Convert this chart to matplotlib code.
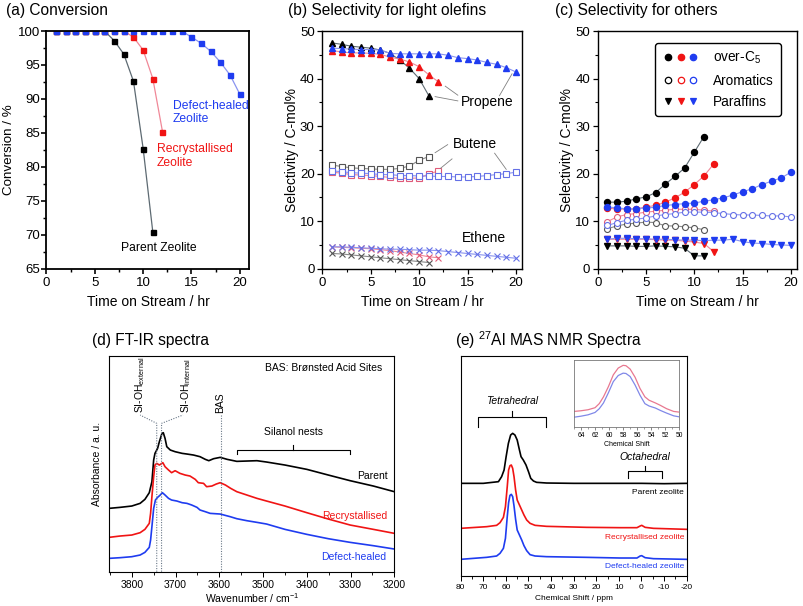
import matplotlib
matplotlib.use('Agg')
import matplotlib.pyplot as plt
from matplotlib.ticker import MultipleLocator
from matplotlib.lines import Line2D
from matplotlib.legend_handler import HandlerTuple

plt.rcParams['font.family'] = ['Liberation Sans', 'DejaVu Sans']
plt.rcParams['mathtext.default'] = 'regular'
plt.rcParams['axes.unicode_minus'] = False

# ---------------- data: (a) conversion ----------------
hours_parent = [1, 2, 3, 4, 5, 6, 7, 8, 9, 10, 11]
hours_recryst = [1, 2, 3, 4, 5, 6, 7, 8, 9, 10, 11, 12]
hours_healed = [1, 2, 3, 4, 5, 6, 7, 8, 9, 10, 11, 12, 13, 14, 15, 16, 17, 18, 19, 20]

conv_parent = [100, 100, 100, 100, 100, 100, 98.6, 96.6, 92.6, 82.7, 70.4]
conv_recryst = [100, 100, 100, 100, 100, 100, 100, 100, 99.1, 97.2, 93.0, 85.2]
conv_healed = [100, 100, 100, 100, 100, 100, 100, 100, 100, 100, 100, 100, 100, 100,
               99.1, 98.2, 97.0, 95.4, 93.5, 90.7]

# ---------------- data: (b) light olefins ----------------
propene_parent = [47.5, 47.2, 46.8, 46.6, 46.4, 46.0, 45.3, 43.9, 42.2, 40.0, 36.4]
propene_recryst = [45.9, 45.6, 45.4, 45.4, 45.3, 45.1, 44.5, 44.1, 43.5, 42.5, 40.8, 39.3]
propene_healed = [46.4, 46.3, 46.2, 46.1, 46.1, 46.0, 45.3, 45.2, 45.2, 45.2, 45.2, 45.2,
                  44.9, 44.4, 44.2, 43.9, 43.4, 43.0, 42.3, 41.4]
butene_parent = [21.8, 21.5, 21.2, 21.1, 21.0, 20.9, 20.9, 21.1, 21.6, 22.8, 23.6]
butene_recryst = [20.3, 20.1, 19.8, 19.7, 19.6, 19.4, 19.2, 19.0, 19.0, 19.1, 19.9, 20.6]
butene_healed = [20.6, 20.4, 20.2, 20.1, 20.0, 19.8, 19.8, 19.6, 19.6, 19.5, 19.5, 19.4,
                 19.4, 19.3, 19.3, 19.4, 19.6, 19.8, 20.0, 20.3]
ethene_parent = [3.2, 3.1, 2.9, 2.7, 2.5, 2.3, 2.1, 1.9, 1.7, 1.5, 1.3]
ethene_recryst = [4.6, 4.5, 4.4, 4.3, 4.2, 4.0, 3.8, 3.5, 3.2, 2.9, 2.5, 2.3]
ethene_healed = [4.6, 4.6, 4.5, 4.4, 4.3, 4.2, 4.1, 4.1, 4.0, 3.9, 3.9, 3.8,
                 3.6, 3.4, 3.2, 3.0, 2.8, 2.6, 2.4, 2.2]

# ---------------- data: (c) others ----------------
c5_parent = [14.0, 14.0, 14.2, 14.7, 15.1, 16.0, 17.8, 19.4, 21.2, 24.5, 27.8]
c5_recryst = [12.7, 12.6, 12.5, 12.6, 13.0, 13.3, 14.0, 14.9, 16.1, 17.7, 19.5, 22.0]
c5_healed = [13.0, 12.8, 12.6, 12.6, 12.8, 12.9, 13.3, 13.5, 13.7, 13.8, 14.2, 14.5,
             14.9, 15.5, 16.2, 16.8, 17.7, 18.4, 19.1, 20.3]
arom_parent = [8.4, 9.0, 9.4, 9.6, 9.8, 9.7, 9.0, 9.0, 8.8, 8.6, 8.2]
arom_recryst = [9.9, 10.9, 11.4, 11.6, 11.9, 12.1, 12.3, 12.5, 12.5, 12.5, 12.3, 12.1]
arom_healed = [9.1, 9.7, 10.2, 10.4, 10.7, 11.1, 11.4, 11.6, 11.9, 11.9, 11.9, 11.8,
               11.6, 11.4, 11.3, 11.3, 11.2, 11.1, 11.1, 10.9]
paraf_parent = [4.8, 4.8, 4.8, 4.7, 4.7, 4.8, 4.7, 4.6, 4.3, 2.7, 2.7]
paraf_recryst = [6.2, 6.2, 6.2, 6.2, 6.2, 6.1, 6.0, 6.0, 5.8, 5.6, 5.3, 3.6]
paraf_healed = [6.2, 6.4, 6.4, 6.3, 6.3, 6.2, 6.2, 6.1, 6.0, 6.0, 5.9, 6.0,
                6.0, 6.2, 5.7, 5.4, 5.3, 5.1, 5.0, 4.9]

# ---------------- data: (d) FT-IR ----------------
ir_wn_parent = [3852, 3827, 3800, 3781, 3770, 3760, 3754, 3750, 3747, 3741, 3737, 3731, 3728,
                3724, 3720, 3712, 3701, 3685, 3674, 3659, 3644, 3632, 3624, 3613, 3598, 3582,
                3560, 3537, 3514, 3492, 3450, 3400, 3351, 3301, 3248, 3200]
ir_parent = [1.90, 1.93, 1.97, 2.05, 2.17, 2.37, 2.70, 3.35, 3.55, 3.70, 3.90, 4.15, 4.17,
             4.00, 3.75, 3.65, 3.60, 3.55, 3.53, 3.50, 3.45, 3.37, 3.33, 3.39, 3.43, 3.37,
             3.31, 3.32, 3.33, 3.29, 3.20, 3.07, 2.90, 2.73, 2.57, 2.40]
ir_wn_recryst = [3852, 3827, 3800, 3781, 3770, 3760, 3757, 3754, 3750, 3747, 3743, 3737, 3729,
                 3724, 3716, 3709, 3701, 3690, 3678, 3667, 3655, 3648, 3636, 3629, 3617, 3607,
                 3598, 3586, 3574, 3560, 3537, 3514, 3492, 3450, 3400, 3351, 3301, 3248, 3200]
ir_recryst = [1.03, 1.07, 1.10, 1.17, 1.27, 1.45, 1.75, 2.25, 2.85, 3.20, 3.25, 3.20, 3.27,
              3.15, 3.05, 2.97, 3.03, 2.95, 2.90, 2.87, 2.77, 2.67, 2.65, 2.55, 2.57, 2.63,
              2.67, 2.60, 2.50, 2.40, 2.30, 2.20, 2.12, 1.97, 1.77, 1.58, 1.40, 1.27, 1.15]
ir_wn_healed = [3852, 3827, 3800, 3781, 3770, 3760, 3757, 3754, 3750, 3746, 3741, 3735, 3730,
                3724, 3716, 3709, 3697, 3685, 3674, 3663, 3651, 3644, 3632, 3621, 3598, 3575,
                3560, 3537, 3514, 3492, 3450, 3400, 3351, 3301, 3248, 3200]
ir_healed = [0.40, 0.42, 0.45, 0.50, 0.58, 0.73, 0.95, 1.35, 1.90, 2.15, 2.23, 2.30, 2.37,
             2.30, 2.20, 2.15, 2.12, 2.07, 2.05, 2.00, 1.93, 1.85, 1.80, 1.75, 1.73, 1.65,
             1.59, 1.53, 1.48, 1.43, 1.27, 1.12, 0.99, 0.88, 0.78, 0.68]
ir_marks = [3743, 3732, 3597]

# ---------------- data: (e) 27Al NMR ----------------
nmr_ppm_parent = [80, 70, 63.3, 61.9, 60.8, 59.9, 58.9, 57.9, 57.0, 56.0, 55.0, 54.0, 53.3,
                  52.3, 51.1, 50.0, 49.0, 47.8, 46.4, 42.0, 30, 20, 10, 0, -10, -20]
nmr_parent = [2.78, 2.78, 2.83, 2.98, 3.18, 3.58, 3.98, 4.23, 4.28, 4.23, 4.08, 3.78, 3.58,
              3.48, 3.33, 3.13, 2.93, 2.85, 2.81, 2.79, 2.78, 2.78, 2.78, 2.78, 2.77, 2.78]
nmr_ppm_sub = [80, 68.5, 64.1, 62.6, 61.1, 60.2, 59.4, 58.8, 58.2, 57.6, 57.0, 56.4, 55.7,
               55.0, 54.0, 53.0, 52.0, 50.8, 49.3, 47.1, 42.0, 24.3, 9.5, 2.0, 0.6, -0.1,
               -1.6, -5.3, -20]
nmr_recryst = [1.43, 1.48, 1.52, 1.60, 1.76, 2.08, 2.68, 3.18, 3.31, 3.33, 3.23, 2.98, 2.58,
               2.28, 2.13, 1.98, 1.83, 1.68, 1.58, 1.52, 1.49, 1.46, 1.45, 1.45, 1.50, 1.52,
               1.46, 1.43, 1.40]
nmr_healed = [0.50, 0.56, 0.60, 0.68, 0.83, 1.13, 1.78, 2.20, 2.42, 2.45, 2.38, 2.10, 1.70,
              1.38, 1.23, 1.08, 0.91, 0.76, 0.64, 0.60, 0.58, 0.56, 0.54, 0.54, 0.60, 0.61,
              0.55, 0.52, 0.50]
inset_ppm = [65, 64, 63, 62, 61.4, 60.8, 60.1, 59.4, 58.7, 58.0, 57.6, 57.0, 56.3, 55.6,
             54.9, 54.3, 53.4, 52.7, 51.8, 50.8, 50]
inset_recryst = [0.45, 0.47, 0.50, 0.56, 0.68, 0.88, 1.18, 1.53, 1.73, 1.81, 1.80, 1.70,
                 1.46, 1.13, 0.88, 0.78, 0.70, 0.63, 0.53, 0.45, 0.43]
inset_healed = [0.28, 0.31, 0.35, 0.42, 0.53, 0.70, 1.00, 1.33, 1.51, 1.58, 1.57, 1.48,
                1.23, 0.93, 0.68, 0.61, 0.55, 0.48, 0.40, 0.32, 0.29]

# ---------------- colours ----------------
K, R, B = '#000000', '#f01414', '#1f3cf0'
K_LINE, R_LINE, B_LINE = '#5d6a72', '#f08898', '#8a94f0'
K_OPEN, R_OPEN, B_OPEN = '#555555', '#e05a78', '#6470e6'

fig = plt.figure(figsize=(8.04, 6.06), dpi=100)


def style(ax, lw=1.0, size=9.5, pad=2.5, ypad=None):
    for s in ax.spines.values():
        s.set_linewidth(lw)
    ax.tick_params(which='both', direction='out', labelsize=size, top=False, right=False)
    ax.tick_params(which='major', length=3.5, width=lw * 0.9, pad=pad)
    ax.tick_params(which='minor', length=2, width=lw * 0.8)
    if ypad is not None:
        ax.tick_params(axis='y', which='major', pad=ypad)


# ================= (a) =================
axA = fig.add_axes([0.0578, 0.5566, 0.2525, 0.3922])
axA.plot(hours_parent, conv_parent, color=K_LINE, lw=0.9, marker='s', ms=3.6, mfc=K, mec=K)
axA.plot(hours_recryst, conv_recryst, color=R_LINE, lw=0.9, marker='s', ms=3.6, mfc=R, mec=R)
axA.plot(hours_healed, conv_healed, color=B_LINE, lw=0.9, marker='s', ms=3.6, mfc=B, mec=B)
axA.set_xlim(0, 21)
axA.set_ylim(65, 100)
axA.xaxis.set_major_locator(MultipleLocator(5))
axA.xaxis.set_minor_locator(MultipleLocator(2.5))
axA.yaxis.set_major_locator(MultipleLocator(5))
axA.yaxis.set_minor_locator(MultipleLocator(2.5))
style(axA, lw=1.3, ypad=0.8)
axA.set_xlabel('Time on Stream / hr', fontsize=10, labelpad=4)
axA.set_ylabel('Conversion / %', fontsize=9.6, labelpad=2)
axA.text(13.1, 89.0, 'Defect-healed', color=B, fontsize=8.7, va='center', ha='left')
axA.text(13.1, 87.0, 'Zeolite', color=B, fontsize=8.7, va='center', ha='left')
axA.text(11.4, 82.7, 'Recrystallised', color=R, fontsize=8.7, va='center', ha='left')
axA.text(11.4, 80.5, 'Zeolite', color=R, fontsize=8.7, va='center', ha='left')
axA.text(11.6, 68.1, 'Parent Zeolite', color=K, fontsize=8.7, va='center', ha='center')

# ================= (b) =================
axB = fig.add_axes([0.4009, 0.5566, 0.2480, 0.3922])
ms_b = 4.0
axB.plot(hours_parent, ethene_parent, color='#8a8a8a', lw=0.8, marker='x', ms=ms_b, mew=0.8, mec=K_OPEN)
axB.plot(hours_recryst, ethene_recryst, color=R_LINE, lw=0.8, marker='x', ms=ms_b, mew=0.8, mec=R_OPEN)
axB.plot(hours_healed, ethene_healed, color=B_LINE, lw=0.8, marker='x', ms=ms_b, mew=0.8, mec=B_OPEN)
axB.plot(hours_parent, butene_parent, color='#8a8a8a', lw=0.8, marker='s', ms=ms_b, mfc='white', mew=0.8, mec=K_OPEN)
axB.plot(hours_recryst, butene_recryst, color=R_LINE, lw=0.8, marker='s', ms=ms_b, mfc='white', mew=0.8, mec=R_OPEN)
axB.plot(hours_healed, butene_healed, color=B_LINE, lw=0.8, marker='s', ms=ms_b, mfc='white', mew=0.8, mec=B_OPEN)
axB.plot(hours_parent, propene_parent, color=K_LINE, lw=0.8, marker='^', ms=ms_b + 0.5, mfc=K, mec=K)
axB.plot(hours_recryst, propene_recryst, color=R_LINE, lw=0.8, marker='^', ms=ms_b + 0.5, mfc=R, mec=R)
axB.plot(hours_healed, propene_healed, color=B_LINE, lw=0.8, marker='^', ms=ms_b + 0.5, mfc=B, mec=B)
axB.set_xlim(0, 20.6)
axB.set_ylim(0, 50)
axB.xaxis.set_major_locator(MultipleLocator(5))
axB.xaxis.set_minor_locator(MultipleLocator(2.5))
axB.yaxis.set_major_locator(MultipleLocator(10))
axB.yaxis.set_minor_locator(MultipleLocator(5))
style(axB, lw=1.0, ypad=2)
axB.set_xlabel('Time on Stream / hr', fontsize=10, labelpad=4)
axB.set_ylabel('Selectivity / C-mol%', fontsize=10, labelpad=0.5)
lead = dict(color='#808080', lw=0.6)
axB.plot([12.7, 14.0], [38.4, 36.5], **lead)
axB.plot([11.65, 14.0], [36.2, 35.3], **lead)
axB.plot([19.6, 18.3], [41.0, 36.4], **lead)
axB.plot([11.65, 12.95], [24.4, 26.1], **lead)
axB.plot([12.2, 13.4], [21.1, 23.1], **lead)
axB.plot([19.0, 17.8], [20.9, 24.3], **lead)
axB.text(17.05, 35.1, 'Propene', fontsize=10, ha='center', va='center')
axB.text(15.8, 26.2, 'Butene', fontsize=10, ha='center', va='center')
axB.text(16.7, 6.4, 'Ethene', fontsize=10, ha='center', va='center')

# ================= (c) =================
axC = fig.add_axes([0.7434, 0.5566, 0.2475, 0.3922])
ms_c = 4.3
axC.plot(hours_parent, arom_parent, color='#8a8a8a', lw=0.8, marker='o', ms=ms_c, mfc='white', mew=0.8, mec=K_OPEN)
axC.plot(hours_recryst, arom_recryst, color=R_LINE, lw=0.8, marker='o', ms=ms_c, mfc='white', mew=0.8, mec=R_OPEN)
axC.plot(hours_healed, arom_healed, color=B_LINE, lw=0.8, marker='o', ms=ms_c, mfc='white', mew=0.8, mec=B_OPEN)
axC.plot(hours_parent, paraf_parent, color=K_LINE, lw=0.8, marker='v', ms=ms_c, mfc=K, mec=K)
axC.plot(hours_recryst, paraf_recryst, color=R_LINE, lw=0.8, marker='v', ms=ms_c, mfc=R, mec=R)
axC.plot(hours_healed, paraf_healed, color=B_LINE, lw=0.8, marker='v', ms=ms_c, mfc=B, mec=B)
axC.plot(hours_parent, c5_parent, color=K_LINE, lw=0.8, marker='o', ms=ms_c, mfc=K, mec=K)
axC.plot(hours_recryst, c5_recryst, color=R_LINE, lw=0.8, marker='o', ms=ms_c, mfc=R, mec=R)
axC.plot(hours_healed, c5_healed, color=B_LINE, lw=0.8, marker='o', ms=ms_c, mfc=B, mec=B)
axC.set_xlim(0, 20.6)
axC.set_ylim(0, 50)
axC.xaxis.set_major_locator(MultipleLocator(5))
axC.xaxis.set_minor_locator(MultipleLocator(2.5))
axC.yaxis.set_major_locator(MultipleLocator(10))
axC.yaxis.set_minor_locator(MultipleLocator(5))
style(axC, lw=1.0, ypad=2)
axC.set_xlabel('Time on Stream / hr', fontsize=10, labelpad=4)
axC.set_ylabel('Selectivity / C-mol%', fontsize=10, labelpad=0.5)


def trio(marker, filled):
    out = []
    for c in (K, R, B):
        out.append(Line2D([], [], ls='none', marker=marker, ms=4.6,
                          mfc=(c if filled else 'white'), mec=c, mew=0.9))
    return tuple(out)


leg = axC.legend([trio('o', True), trio('o', False), trio('v', True)],
                 ['over-C$_5$', 'Aromatics', 'Paraffins'],
                 handler_map={tuple: HandlerTuple(ndivide=None, pad=0)},
                 loc='upper left', bbox_to_anchor=(0.288, 0.95), bbox_transform=axC.transAxes,
                 fontsize=9.8, frameon=True, fancybox=True, framealpha=1, edgecolor='black',
                 handlelength=2.76, handletextpad=1.0, labelspacing=0.55, borderpad=0.5,
                 borderaxespad=0)
leg.get_frame().set_linewidth(1.0)

# ================= (d) FT-IR =================
axD = fig.add_axes([0.1356, 0.0566, 0.3549, 0.3559])
axD.plot(ir_wn_parent, ir_parent, color=K, lw=1.2)
axD.plot(ir_wn_recryst, ir_recryst, color=R, lw=1.2)
axD.plot(ir_wn_healed, ir_healed, color=B, lw=1.2)
dot = dict(color='#6a7888', lw=0.8, ls=(0, (1, 1.3)))
axD.plot([ir_marks[0], ir_marks[0], 3781], [0, 4.45, 4.70], **dot)
axD.plot([ir_marks[1], ir_marks[1], 3683], [0, 4.45, 4.70], **dot)
axD.plot([ir_marks[2], ir_marks[2]], [0, 4.70], **dot)
axD.text(3781, 4.75, 'SI-OH$_{external}$', rotation=90, fontsize=7.5, ha='center', va='bottom')
axD.text(3676, 4.75, 'SI-OH$_{internal}$', rotation=90, fontsize=7.5, ha='center', va='bottom')
axD.text(3598, 4.75, 'BAS', rotation=90, fontsize=7.5, ha='center', va='bottom')
axD.plot([3560, 3560, 3302, 3302], [3.53, 3.66, 3.66, 3.53], color=K, lw=0.8)
axD.plot([3431, 3431], [3.66, 3.80], color=K, lw=0.8)
axD.text(3431, 4.20, 'Silanol nests', fontsize=7.5, ha='center', va='center')
axD.text(3227, 6.10, 'BAS: Br\u00f8nsted Acid Sites', fontsize=7.5, ha='right', va='center')
axD.text(3216, 2.88, 'Parent', fontsize=7.5, ha='right', va='center', color=K)
axD.text(3217, 1.67, 'Recrystallised', fontsize=7.5, ha='right', va='center', color=R)
axD.text(3219, 0.43, 'Defect-healed', fontsize=7.5, ha='right', va='center', color=B)
axD.set_xlim(3852, 3200)
axD.set_ylim(0, 6.47)
axD.xaxis.set_major_locator(MultipleLocator(100))
axD.xaxis.set_minor_locator(MultipleLocator(50))
axD.set_yticks([])
style(axD, lw=0.8, size=7.5, pad=2.5)
axD.set_xlabel('Wavenumber / cm$^{-1}$', fontsize=7.5, labelpad=1)
axD.set_ylabel('Absorbance / a. u.', fontsize=7.5, labelpad=5)

# ================= (e) NMR =================
axE = fig.add_axes([0.5730, 0.0495, 0.2811, 0.3630])
axE.plot(nmr_ppm_parent, nmr_parent, color=K, lw=1.2)
axE.plot(nmr_ppm_sub, nmr_recryst, color=R, lw=1.2)
axE.plot(nmr_ppm_sub, nmr_healed, color=B, lw=1.2)
axE.plot([72.2, 72.2, 42.2, 42.2], [4.48, 4.78, 4.78, 4.48], color=K, lw=0.8)
axE.plot([57.1, 57.1], [4.78, 4.95], color=K, lw=0.8)
axE.text(57.4, 5.26, 'Tetrahedral', fontsize=7.5, style='italic', ha='center', va='center')
axE.plot([6.1, 6.1, -9.1, -9.1], [2.93, 3.16, 3.16, 2.93], color=K, lw=0.8)
axE.plot([-1.5, -1.5], [3.16, 3.31], color=K, lw=0.8)
axE.text(-1.5, 3.58, 'Octahedral', fontsize=7.5, style='italic', ha='center', va='center')
axE.text(-18.8, 2.51, 'Parent zeolite', fontsize=6, ha='right', va='center', color=K)
axE.text(-18.8, 1.16, 'Recrystallised zeolite', fontsize=6, ha='right', va='center', color=R)
axE.text(-18.8, 0.28, 'Defect-healed zeolite', fontsize=6, ha='right', va='center', color=B)
axE.set_xlim(80, -20)
axE.set_ylim(0, 6.6)
axE.xaxis.set_major_locator(MultipleLocator(10))
axE.xaxis.set_minor_locator(MultipleLocator(5))
axE.set_yticks([])
style(axE, lw=0.8, size=6, pad=2)
axE.set_xlabel('Chemical Shift / ppm', fontsize=6, labelpad=3)

# inset
axI = fig.add_axes([0.7139, 0.2959, 0.1310, 0.1096])
axI.plot(inset_ppm, inset_recryst, color='#e87890', lw=0.9)
axI.plot(inset_ppm, inset_healed, color='#8088e8', lw=0.9)
axI.set_xlim(65, 50)
axI.set_ylim(0, 1.96)
axI.xaxis.set_major_locator(MultipleLocator(2))
axI.xaxis.set_minor_locator(MultipleLocator(1))
axI.set_yticks([])
for s in axI.spines.values():
    s.set_linewidth(0.6)
    s.set_color('#777777')
axI.tick_params(which='both', direction='out', labelsize=4.8, pad=1.5, color='#555555')
axI.tick_params(which='major', length=2, width=0.5)
axI.tick_params(which='minor', length=1.2, width=0.4)
axI.set_xlabel('Chemical Shift', fontsize=5, labelpad=1.5)

# ================= titles =================
fig.text(6 / 804, 1 - 11 / 606, '(a) Conversion', fontsize=11.2, ha='left', va='center')
fig.text(287.7 / 804, 1 - 11 / 606, '(b) Selectivity for light olefins', fontsize=11.2, ha='left', va='center')
fig.text(555 / 804, 1 - 11 / 606, '(c) Selectivity for others', fontsize=11.2, ha='left', va='center')
fig.text(91.7 / 804, 1 - 340 / 606, '(d) FT-IR spectra', fontsize=11.2, ha='left', va='center')
fig.text(455 / 804, 1 - 340 / 606, '(e) $^{27}$Al MAS NMR Spectra', fontsize=11.2, ha='left', va='center')

fig.savefig('out.png', dpi=100)
